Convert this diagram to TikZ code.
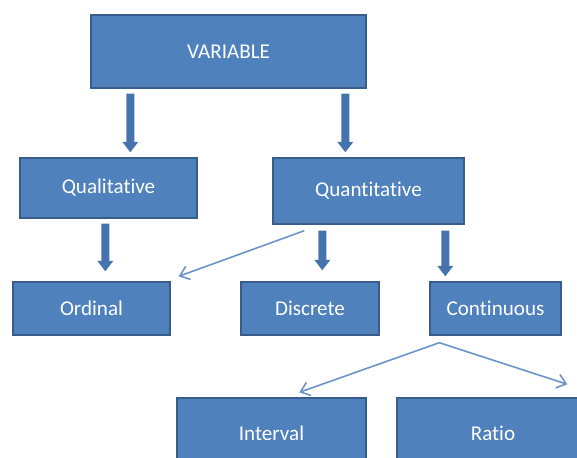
\documentclass[tikz,border=0pt]{standalone}
\usepackage{fontspec}
\setmainfont[Ligatures=NoCommon]{Carlito}
\usetikzlibrary{arrows.meta}
\definecolor{boxfill}{HTML}{4F81BD}
\definecolor{boxline}{HTML}{385D8A}
\definecolor{fatblue}{HTML}{4573AE}
\definecolor{thinblue}{HTML}{6A93C9}
\begin{document}
\begin{tikzpicture}[x=0.02cm, y=-0.02cm,
  box/.style={draw=boxline, line width=0.8pt, fill=boxfill, text=white, inner sep=0pt, font=\fontsize{12}{14}\selectfont},
  fat/.style={draw=fatblue, line width=4.6pt, -{Triangle[width=8.8pt, length=6pt]}},
  thin/.style={draw=thinblue, line width=0.9pt, -{Straight Barb[length=5pt, width=8pt]}}]
\useasboundingbox (0,0) rectangle (577,457);
\clip (0,0) rectangle (577,457);
\node[box, minimum width=5.5cm, minimum height=1.46cm] (var) at (228.5,51.5) {VARIABLE};
\node[box, minimum width=3.54cm, minimum height=1.2cm] (qual) at (108.5,188) {Qualitative};
\node[box, minimum width=3.82cm, minimum height=1.32cm] (quan) at (368.5,191) {Quantitative};
\node[box, minimum width=3.14cm, minimum height=1.06cm] (ord) at (91.5,308.5) {Ordinal};
\node[box, minimum width=2.76cm, minimum height=1.06cm] (disc) at (310,308.5) {Discrete};
\node[box, minimum width=2.62cm, minimum height=1.06cm] (cont) at (495.5,308.5) {Continuous};
\node[box, minimum width=3.78cm, minimum height=1.4cm] (int) at (271.5,433) {Interval};
\node[box, minimum width=3.84cm, minimum height=1.4cm] (ratio) at (493,433) {Ratio};

\draw[fat] ([shift={(40,5)}]var.south west) -- ([shift={(111,-5)}]qual.north west);
\draw[fat] ([shift={(255,5)}]var.south west) -- ([shift={(73,-5)}]quan.north west);
\draw[fat] ([shift={(86,5)}]qual.south west) -- ([shift={(93,-10)}]ord.north west);
\draw[fat] ([shift={(50,6)}]quan.south west) -- ([shift={(82,-11)}]disc.north west);
\draw[fat] ([shift={(173,6)}]quan.south west) -- ([shift={(16,-5)}]cont.north west);
\draw[thin] ([shift={(32,6)}]quan.south west) -- ([shift={(8,-5)}]ord.north east);
\draw[thin] ([shift={(10,7)}]cont.south west) -- ([shift={(123,-5)}]int.north west);
\draw[thin] ([shift={(10,7)}]cont.south west) -- ([shift={(171,-13)}]ratio.north west);
\end{tikzpicture}
\end{document}
